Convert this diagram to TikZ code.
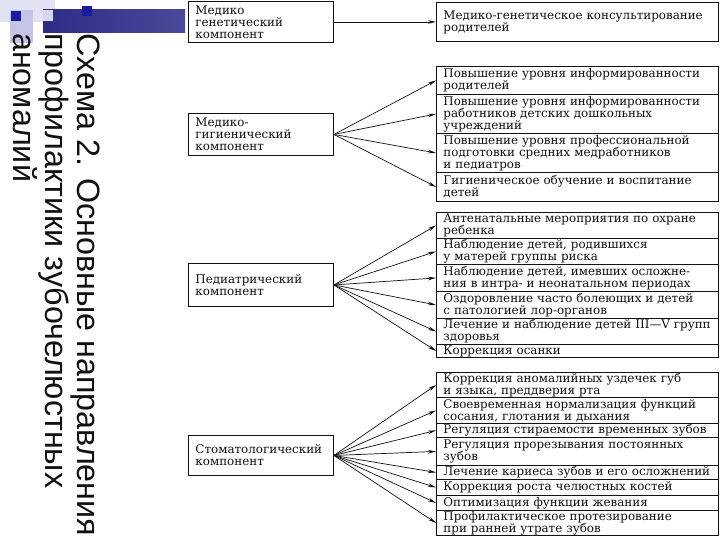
\documentclass[tikz,border=0pt]{standalone}
\usepackage{fontspec}
\setmainfont{DejaVu Serif}
\newfontfamily\titlefont{Liberation Sans}
\usetikzlibrary{arrows.meta}
\definecolor{bandL}{HTML}{2C2C86}
\definecolor{bandR}{HTML}{4A4A9A}
\definecolor{lavA}{HTML}{E2E2F2}
\definecolor{lavB}{HTML}{C4C4E4}
\definecolor{sqblue}{HTML}{1A1AA0}
\definecolor{ink}{HTML}{111111}
\begin{document}
\begin{tikzpicture}[x=1pt,y=-1pt,
  txt/.style={font=\fontsize{11.9}{12}\selectfont, text=ink},
  lbox/.style={txt, draw=ink, line width=0.9pt, anchor=north west,
    minimum width=145pt, text width=131pt, inner xsep=7pt, inner ysep=0pt, align=left},
  rbox/.style={txt, draw=ink, line width=0.9pt, anchor=north west,
    minimum width=282pt, text width=268pt, inner xsep=7pt, inner ysep=0pt, align=left},
  arr/.style={-{Stealth[length=8pt,width=3.6pt]}, line width=0.7pt, draw=ink},
  ttl/.style={font=\titlefont\fontsize{32.3}{32}\selectfont, text=ink,
    rotate=-90, anchor=base west, inner sep=0pt}]
\useasboundingbox (0,0) rectangle (720,540);
\fill[white] (0,0) rectangle (720,540);
% decoration
\fill[lavA] (0,0) rectangle (55,22);
\fill[lavB] (10,10) rectangle (33,43);
\shade[left color=bandL, right color=bandR] (43,10) rectangle (185,33);
\fill[lavB!70!white] (43,10) rectangle (53,21);
\fill[sqblue] (11,11) rectangle (21,21);
\fill[sqblue] (82,6) rectangle (92,16);
% title
\node[ttl] (t1) at (77,33) {Схема 2. Основные направления};
\node[ttl] (t2) at (45,33) {профилактики зубочелюстных};
\node[ttl] (t3) at (13,33) {аномалий};
% left boxes
\node[lbox, minimum height=41pt] (L1) at (188,1) {Медико\\генетический\\компонент};
\node[lbox, minimum height=42pt] (L2) at (188,113) {Медико-\\гигиенический\\компонент};
\node[lbox, minimum height=43pt] (L3) at (188,263) {Педиатрический\\компонент};
\node[lbox, minimum height=40pt] (L4) at (188,435) {Стоматологический\\компонент};
% right boxes
\node[rbox, minimum height=39pt] (r0) at (436,2) {Медико-генетическое консультирование\\родителей};
\node[rbox, minimum height=28pt] (r1) at (436,66) {Повышение уровня информированности\\родителей};
\node[rbox, minimum height=39pt] (r2) at (436,94) {Повышение уровня информированности\\работников детских дошкольных\\учреждений};
\node[rbox, minimum height=39pt] (r3) at (436,133) {Повышение уровня профессиональной\\подготовки средних медработников\\и педиатров};
\node[rbox, minimum height=29pt] (r4) at (436,172) {Гигиеническое обучение и воспитание\\детей};
\node[rbox, minimum height=26pt] (p1) at (436,212) {Антенатальные мероприятия по охране\\ребенка};
\node[rbox, minimum height=26pt] (p2) at (436,238) {Наблюдение детей, родившихся\\у матерей группы риска};
\node[rbox, minimum height=27pt] (p3) at (436,264) {Наблюдение детей, имевших осложне-\\ния в интра- и неонатальном периодах};
\node[rbox, minimum height=27pt] (p4) at (436,291) {Оздоровление часто болеющих и детей\\с патологией лор-органов};
\node[rbox, minimum height=26pt] (p5) at (436,318) {Лечение и наблюдение детей III—V групп\\здоровья};
\node[rbox, minimum height=13pt] (p6) at (436,344) {Коррекция осанки};
\node[rbox, minimum height=25pt] (s1) at (436,372) {Коррекция аномалийных уздечек губ\\и языка, преддверия рта};
\node[rbox, minimum height=26pt] (s2) at (436,397) {Своевременная нормализация функций\\сосания, глотания и дыхания};
\node[rbox, minimum height=14pt] (s3) at (436,423) {Регуляция стираемости временных зубов};
\node[rbox, minimum height=28pt] (s4) at (436,437) {Регуляция прорезывания постоянных\\зубов};
\node[rbox, minimum height=14pt] (s5) at (436,465) {Лечение кариеса зубов и его осложнений};
\node[rbox, minimum height=16pt] (s6) at (436,479) {Коррекция роста челюстных костей};
\node[rbox, minimum height=15pt] (s7) at (436,495) {Оптимизация функции жевания};
\node[rbox, minimum height=25pt] (s8) at (436,510) {Профилактическое протезирование\\при ранней утрате зубов};
% arrows
\draw[arr] (L1.east) -- (r0.west);
\foreach \t in {r1,r2,r3,r4} \draw[arr] (L2.east) -- (\t.west);
\foreach \t in {p1,p2,p3,p4,p5,p6} \draw[arr] (L3.east) -- (\t.west);
\foreach \t in {s1,s2,s3,s4,s5,s6,s7,s8} \draw[arr] (L4.east) -- (\t.west);
\end{tikzpicture}
\end{document}
